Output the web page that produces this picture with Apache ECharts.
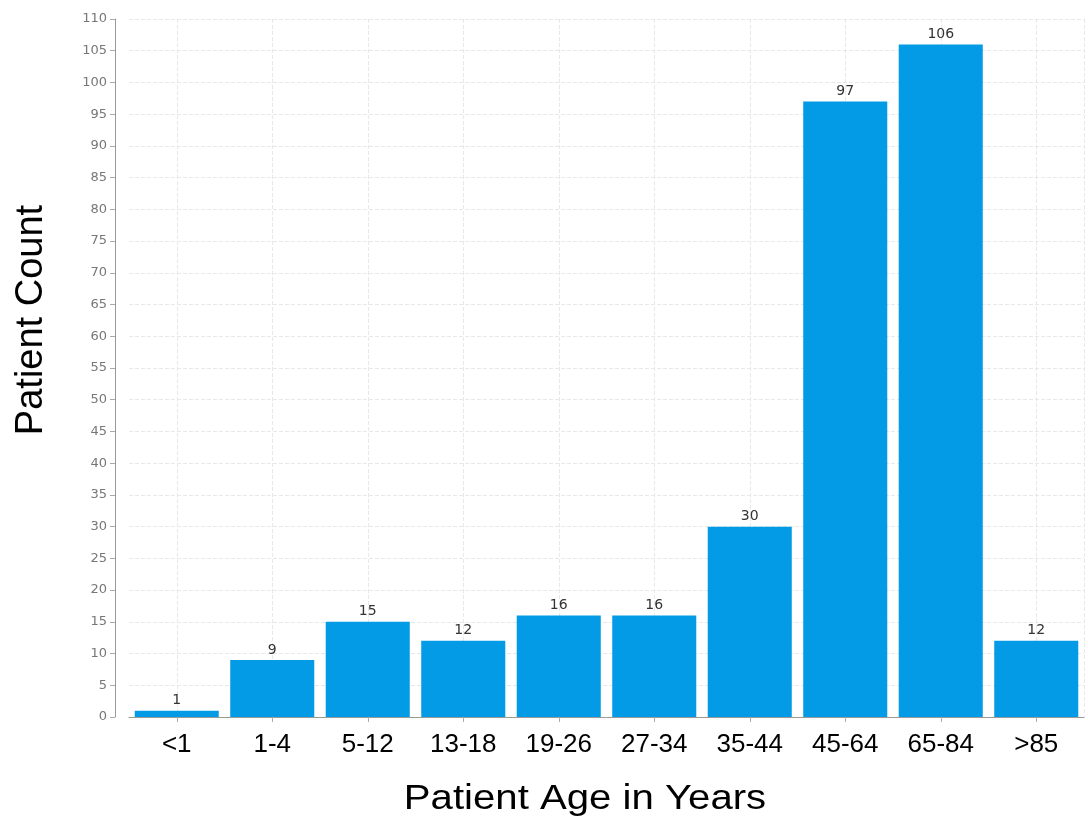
<!DOCTYPE html>
<html><head><meta charset="utf-8">
<script src="https://cdn.jsdelivr.net/npm/echarts@6/dist/echarts.min.js"></script>
<style>html,body{margin:0;padding:0;background:#fff}#c{width:1088px;height:821px}</style>
</head><body><div id="c"></div>
<script>
const categories = ['<1','1-4','5-12','13-18','19-26','27-34','35-44','45-64','65-84','>85'];
const patientCounts = [1,9,15,12,16,16,30,97,106,12];
const yMin = 0, yMax = 110, yStep = 5;
const xTitle = 'Patient Age in Years';
const yTitle = 'Patient Count';

// half-band helper axis so vertical grid lines sit at category centres
const halfBands = categories.flatMap(c => [c + 'a', c + 'b']);

const chart = echarts.init(document.getElementById('c'));
chart.setOption({
  animation: false,
  grid: {left: 129, right: 4, top: 19, bottom: 104},
  xAxis: [{
    type: 'category', data: categories,
    axisLine: {lineStyle: {color: '#999', width: 1}},
    axisTick: {show: true, alignWithLabel: true, length: 5, lineStyle: {color: '#aaa'}},
    axisLabel: {fontFamily: 'Liberation Sans', fontSize: 26, color: '#000', margin: 15},
    splitLine: {show: false}
  }, {
    type: 'category', data: halfBands, position: 'bottom',
    axisLine: {show: false}, axisTick: {show: false}, axisLabel: {show: false},
    splitLine: {show: true, interval: (i) => i % 2 === 1, lineStyle: {color: '#e8e8e8', type: 'dashed'}}
  }],
  yAxis: {
    type: 'value', min: yMin, max: yMax, interval: yStep, offset: 14,
    axisLine: {show: true, lineStyle: {color: '#999', width: 1}},
    axisTick: {show: true, length: 5, lineStyle: {color: '#aaa'}},
    axisLabel: {fontFamily: 'DejaVu Sans', fontSize: 13, color: '#777', margin: 8},
    splitLine: {show: true, lineStyle: {color: '#e8e8e8', type: 'dashed'}}
  },
  graphic: [{
    type: 'text', x: 585, y: 799, scaleX: 1.147,
    style: {text: xTitle, font: '35px "Liberation Sans"', fill: '#000', align: 'center', verticalAlign: 'middle'}
  }, {
    type: 'text', x: 32, y: 320, rotation: Math.PI / 2,
    style: {text: yTitle, font: '38px "Liberation Sans"', fill: '#000', align: 'center', verticalAlign: 'middle'}
  }],
  series: [{
    type: 'bar', data: patientCounts, barCategoryGap: '12%', xAxisIndex: 0,
    itemStyle: {color: '#039be6'},
    label: {show: true, position: 'top', distance: 3, fontFamily: 'DejaVu Sans', fontSize: 14, color: '#333'}
  }]
});
</script></body></html>
